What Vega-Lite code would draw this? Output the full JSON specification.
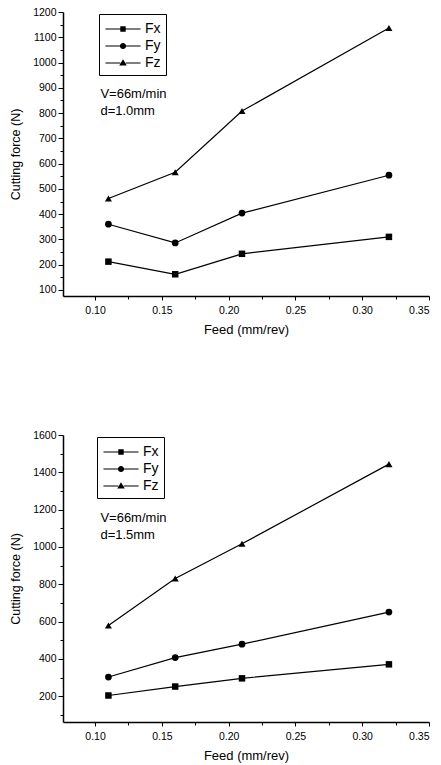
{
  "$schema": "https://vega.github.io/schema/vega-lite/v6.json",
  "padding": {"left": 9, "top": 7, "right": 5, "bottom": 5},
  "background": "white",
  "config": {
    "view": {"stroke": null},
    "font": "Liberation Sans",
    "axis": {
      "domainColor": "black",
      "domainWidth": 1.5,
      "tickColor": "black",
      "tickWidth": 1,
      "labelColor": "black",
      "titleColor": "black",
      "grid": false,
      "labelFont": "Liberation Sans",
      "titleFont": "Liberation Sans",
      "titleFontWeight": "normal",
      "labelFontSize": 10.5,
      "titleFontSize": 13
    },
    "legend": {
      "labelFont": "Liberation Sans",
      "labelColor": "black"
    }
  },
  "datasets": {
    "top": [
      {"feed": 0.11, "force": 212, "series": "Fx"},
      {"feed": 0.16, "force": 162, "series": "Fx"},
      {"feed": 0.21, "force": 243, "series": "Fx"},
      {"feed": 0.32, "force": 310, "series": "Fx"},
      {"feed": 0.11, "force": 360, "series": "Fy"},
      {"feed": 0.16, "force": 286, "series": "Fy"},
      {"feed": 0.21, "force": 404, "series": "Fy"},
      {"feed": 0.32, "force": 554, "series": "Fy"},
      {"feed": 0.11, "force": 462, "series": "Fz"},
      {"feed": 0.16, "force": 566, "series": "Fz"},
      {"feed": 0.21, "force": 808, "series": "Fz"},
      {"feed": 0.32, "force": 1137, "series": "Fz"}
    ],
    "bottom": [
      {"feed": 0.11, "force": 204, "series": "Fx"},
      {"feed": 0.16, "force": 252, "series": "Fx"},
      {"feed": 0.21, "force": 296, "series": "Fx"},
      {"feed": 0.32, "force": 371, "series": "Fx"},
      {"feed": 0.11, "force": 303, "series": "Fy"},
      {"feed": 0.16, "force": 407, "series": "Fy"},
      {"feed": 0.21, "force": 479, "series": "Fy"},
      {"feed": 0.32, "force": 651, "series": "Fy"},
      {"feed": 0.11, "force": 579, "series": "Fz"},
      {"feed": 0.16, "force": 831, "series": "Fz"},
      {"feed": 0.21, "force": 1017, "series": "Fz"},
      {"feed": 0.32, "force": 1444, "series": "Fz"}
    ],
    "notesTop": [
      {"feed": 0.104, "force": 876, "note": "V=66m/min"},
      {"feed": 0.104, "force": 810, "note": "d=1.0mm"}
    ],
    "notesBottom": [
      {"feed": 0.104, "force": 1155, "note": "V=66m/min"},
      {"feed": 0.104, "force": 1062, "note": "d=1.5mm"}
    ]
  },
  "spacing": 93,
  "vconcat": [
    {
      "width": 366,
      "height": 284,
      "resolve": {"scale": {"shape": "independent"}},
      "encoding": {
        "x": {
          "field": "feed", "type": "quantitative",
          "scale": {"domain": [0.076, 0.35], "nice": false, "zero": false},
          "axis": {
            "title": "Feed (mm/rev)",
            "values": [0.1, 0.125, 0.15, 0.175, 0.2, 0.225, 0.25, 0.275, 0.3, 0.325, 0.35],
            "format": ".2f",
            "labelExpr": "round(datum.value*1000) % 50 == 0 ? datum.label : ''",
            "tickSize": {"condition": {"test": "round(datum.value*1000) % 50 == 0", "value": 4}, "value": 3},
            "labelPadding": 5,
            "titlePadding": 8
          }
        },
        "y": {
          "field": "force", "type": "quantitative",
          "scale": {"domain": [76, 1200], "nice": false, "zero": false},
          "axis": {
            "title": "Cutting force (N)",
            "titleFontSize": 12.5,
            "format": "d",
            "values": [100, 150, 200, 250, 300, 350, 400, 450, 500, 550, 600, 650, 700, 750, 800, 850, 900, 950, 1000, 1050, 1100, 1150, 1200],
            "labelExpr": "datum.value % 100 == 0 ? datum.label : ''",
            "tickSize": {"condition": {"test": "datum.value % 100 == 0", "value": 5}, "value": 3},
            "labelPadding": 2,
            "titlePadding": 10
          }
        }
      },
      "layer": [
        {
          "data": {"name": "top"},
          "mark": {"type": "line", "color": "black", "strokeWidth": 1.2},
          "encoding": {"detail": {"field": "series"}}
        },
        {
          "data": {"name": "top"},
          "mark": {"type": "point", "filled": true, "color": "black", "opacity": 1},
          "encoding": {
            "shape": {"field": "series", "type": "nominal",
              "scale": {"domain": ["Fx", "Fy", "Fz"], "range": ["square", "circle", "triangle-up"]},
              "legend": null},
            "size": {"field": "series", "type": "nominal",
              "scale": {"domain": ["Fx", "Fy", "Fz"], "range": [42, 49, 75]},
              "legend": null}
          }
        },
        {
          "data": {"name": "top"},
          "transform": [{"filter": "datum.feed > 1"}],
          "mark": {"type": "point", "filled": true, "color": "black", "opacity": 1, "size": 324},
          "encoding": {
            "shape": {"field": "series", "type": "nominal",
              "scale": {"domain": ["Fx", "Fy", "Fz"], "range": [
                "M-1.95,-0.06H-0.3V0.06H-1.95ZM0.3,-0.06H1.95V0.06H0.3ZM-0.3,-0.3H0.3V0.3H-0.3Z",
                "M-1.95,-0.06H-0.33V0.06H-1.95ZM0.33,-0.06H1.95V0.06H0.33ZM-0.34,0A0.34,0.34 0 1,1 0.34,0A0.34,0.34 0 1,1 -0.34,0Z",
                "M-1.95,-0.06H-0.3V0.06H-1.95ZM0.3,-0.06H1.95V0.06H0.3ZM0,-0.42L0.42,0.28H-0.42Z"
              ]},
              "legend": {
                "title": null,
                "orient": "none",
                "legendX": 36,
                "legendY": 2,
                "fillColor": "white",
                "strokeColor": "black",
                "padding": 5,
                "symbolOffset": 9,
                "labelFontSize": 14,
                "labelOffset": 12,
                "rowPadding": 0,
                "symbolFillColor": "black",
                "symbolSize": 324
              }
            }
          }
        },
        {
          "data": {"name": "notesTop"},
          "mark": {"type": "text", "align": "left", "baseline": "middle", "fontSize": 13, "color": "black", "font": "Liberation Sans"},
          "encoding": {"text": {"field": "note"}}
        }
      ]
    },
    {
      "width": 366,
      "height": 287,
      "resolve": {"scale": {"shape": "independent"}},
      "encoding": {
        "x": {
          "field": "feed", "type": "quantitative",
          "scale": {"domain": [0.076, 0.35], "nice": false, "zero": false},
          "axis": {
            "title": "Feed (mm/rev)",
            "values": [0.1, 0.125, 0.15, 0.175, 0.2, 0.225, 0.25, 0.275, 0.3, 0.325, 0.35],
            "format": ".2f",
            "labelExpr": "round(datum.value*1000) % 50 == 0 ? datum.label : ''",
            "tickSize": {"condition": {"test": "round(datum.value*1000) % 50 == 0", "value": 4}, "value": 3},
            "labelPadding": 5,
            "titlePadding": 8
          }
        },
        "y": {
          "field": "force", "type": "quantitative",
          "scale": {"domain": [62, 1600], "nice": false, "zero": false},
          "axis": {
            "title": "Cutting force (N)",
            "titleFontSize": 12.5,
            "format": "d",
            "values": [100, 200, 300, 400, 500, 600, 700, 800, 900, 1000, 1100, 1200, 1300, 1400, 1500, 1600],
            "labelExpr": "datum.value % 200 == 0 ? datum.label : ''",
            "tickSize": {"condition": {"test": "datum.value % 200 == 0", "value": 5}, "value": 3},
            "labelPadding": 2,
            "titlePadding": 10
          }
        }
      },
      "layer": [
        {
          "data": {"name": "bottom"},
          "mark": {"type": "line", "color": "black", "strokeWidth": 1.2},
          "encoding": {"detail": {"field": "series"}}
        },
        {
          "data": {"name": "bottom"},
          "mark": {"type": "point", "filled": true, "color": "black", "opacity": 1},
          "encoding": {
            "shape": {"field": "series", "type": "nominal",
              "scale": {"domain": ["Fx", "Fy", "Fz"], "range": ["square", "circle", "triangle-up"]},
              "legend": null},
            "size": {"field": "series", "type": "nominal",
              "scale": {"domain": ["Fx", "Fy", "Fz"], "range": [42, 49, 75]},
              "legend": null}
          }
        },
        {
          "data": {"name": "bottom"},
          "transform": [{"filter": "datum.feed > 1"}],
          "mark": {"type": "point", "filled": true, "color": "black", "opacity": 1, "size": 324},
          "encoding": {
            "shape": {"field": "series", "type": "nominal",
              "scale": {"domain": ["Fx", "Fy", "Fz"], "range": [
                "M-1.95,-0.06H-0.3V0.06H-1.95ZM0.3,-0.06H1.95V0.06H0.3ZM-0.3,-0.3H0.3V0.3H-0.3Z",
                "M-1.95,-0.06H-0.33V0.06H-1.95ZM0.33,-0.06H1.95V0.06H0.33ZM-0.34,0A0.34,0.34 0 1,1 0.34,0A0.34,0.34 0 1,1 -0.34,0Z",
                "M-1.95,-0.06H-0.3V0.06H-1.95ZM0.3,-0.06H1.95V0.06H0.3ZM0,-0.42L0.42,0.28H-0.42Z"
              ]},
              "legend": {
                "title": null,
                "orient": "none",
                "legendX": 34,
                "legendY": 2,
                "fillColor": "white",
                "strokeColor": "black",
                "padding": 5,
                "symbolOffset": 9,
                "labelFontSize": 14,
                "labelOffset": 12,
                "rowPadding": 0,
                "symbolFillColor": "black",
                "symbolSize": 324
              }
            }
          }
        },
        {
          "data": {"name": "notesBottom"},
          "mark": {"type": "text", "align": "left", "baseline": "middle", "fontSize": 13, "color": "black", "font": "Liberation Sans"},
          "encoding": {"text": {"field": "note"}}
        }
      ]
    }
  ]
}
